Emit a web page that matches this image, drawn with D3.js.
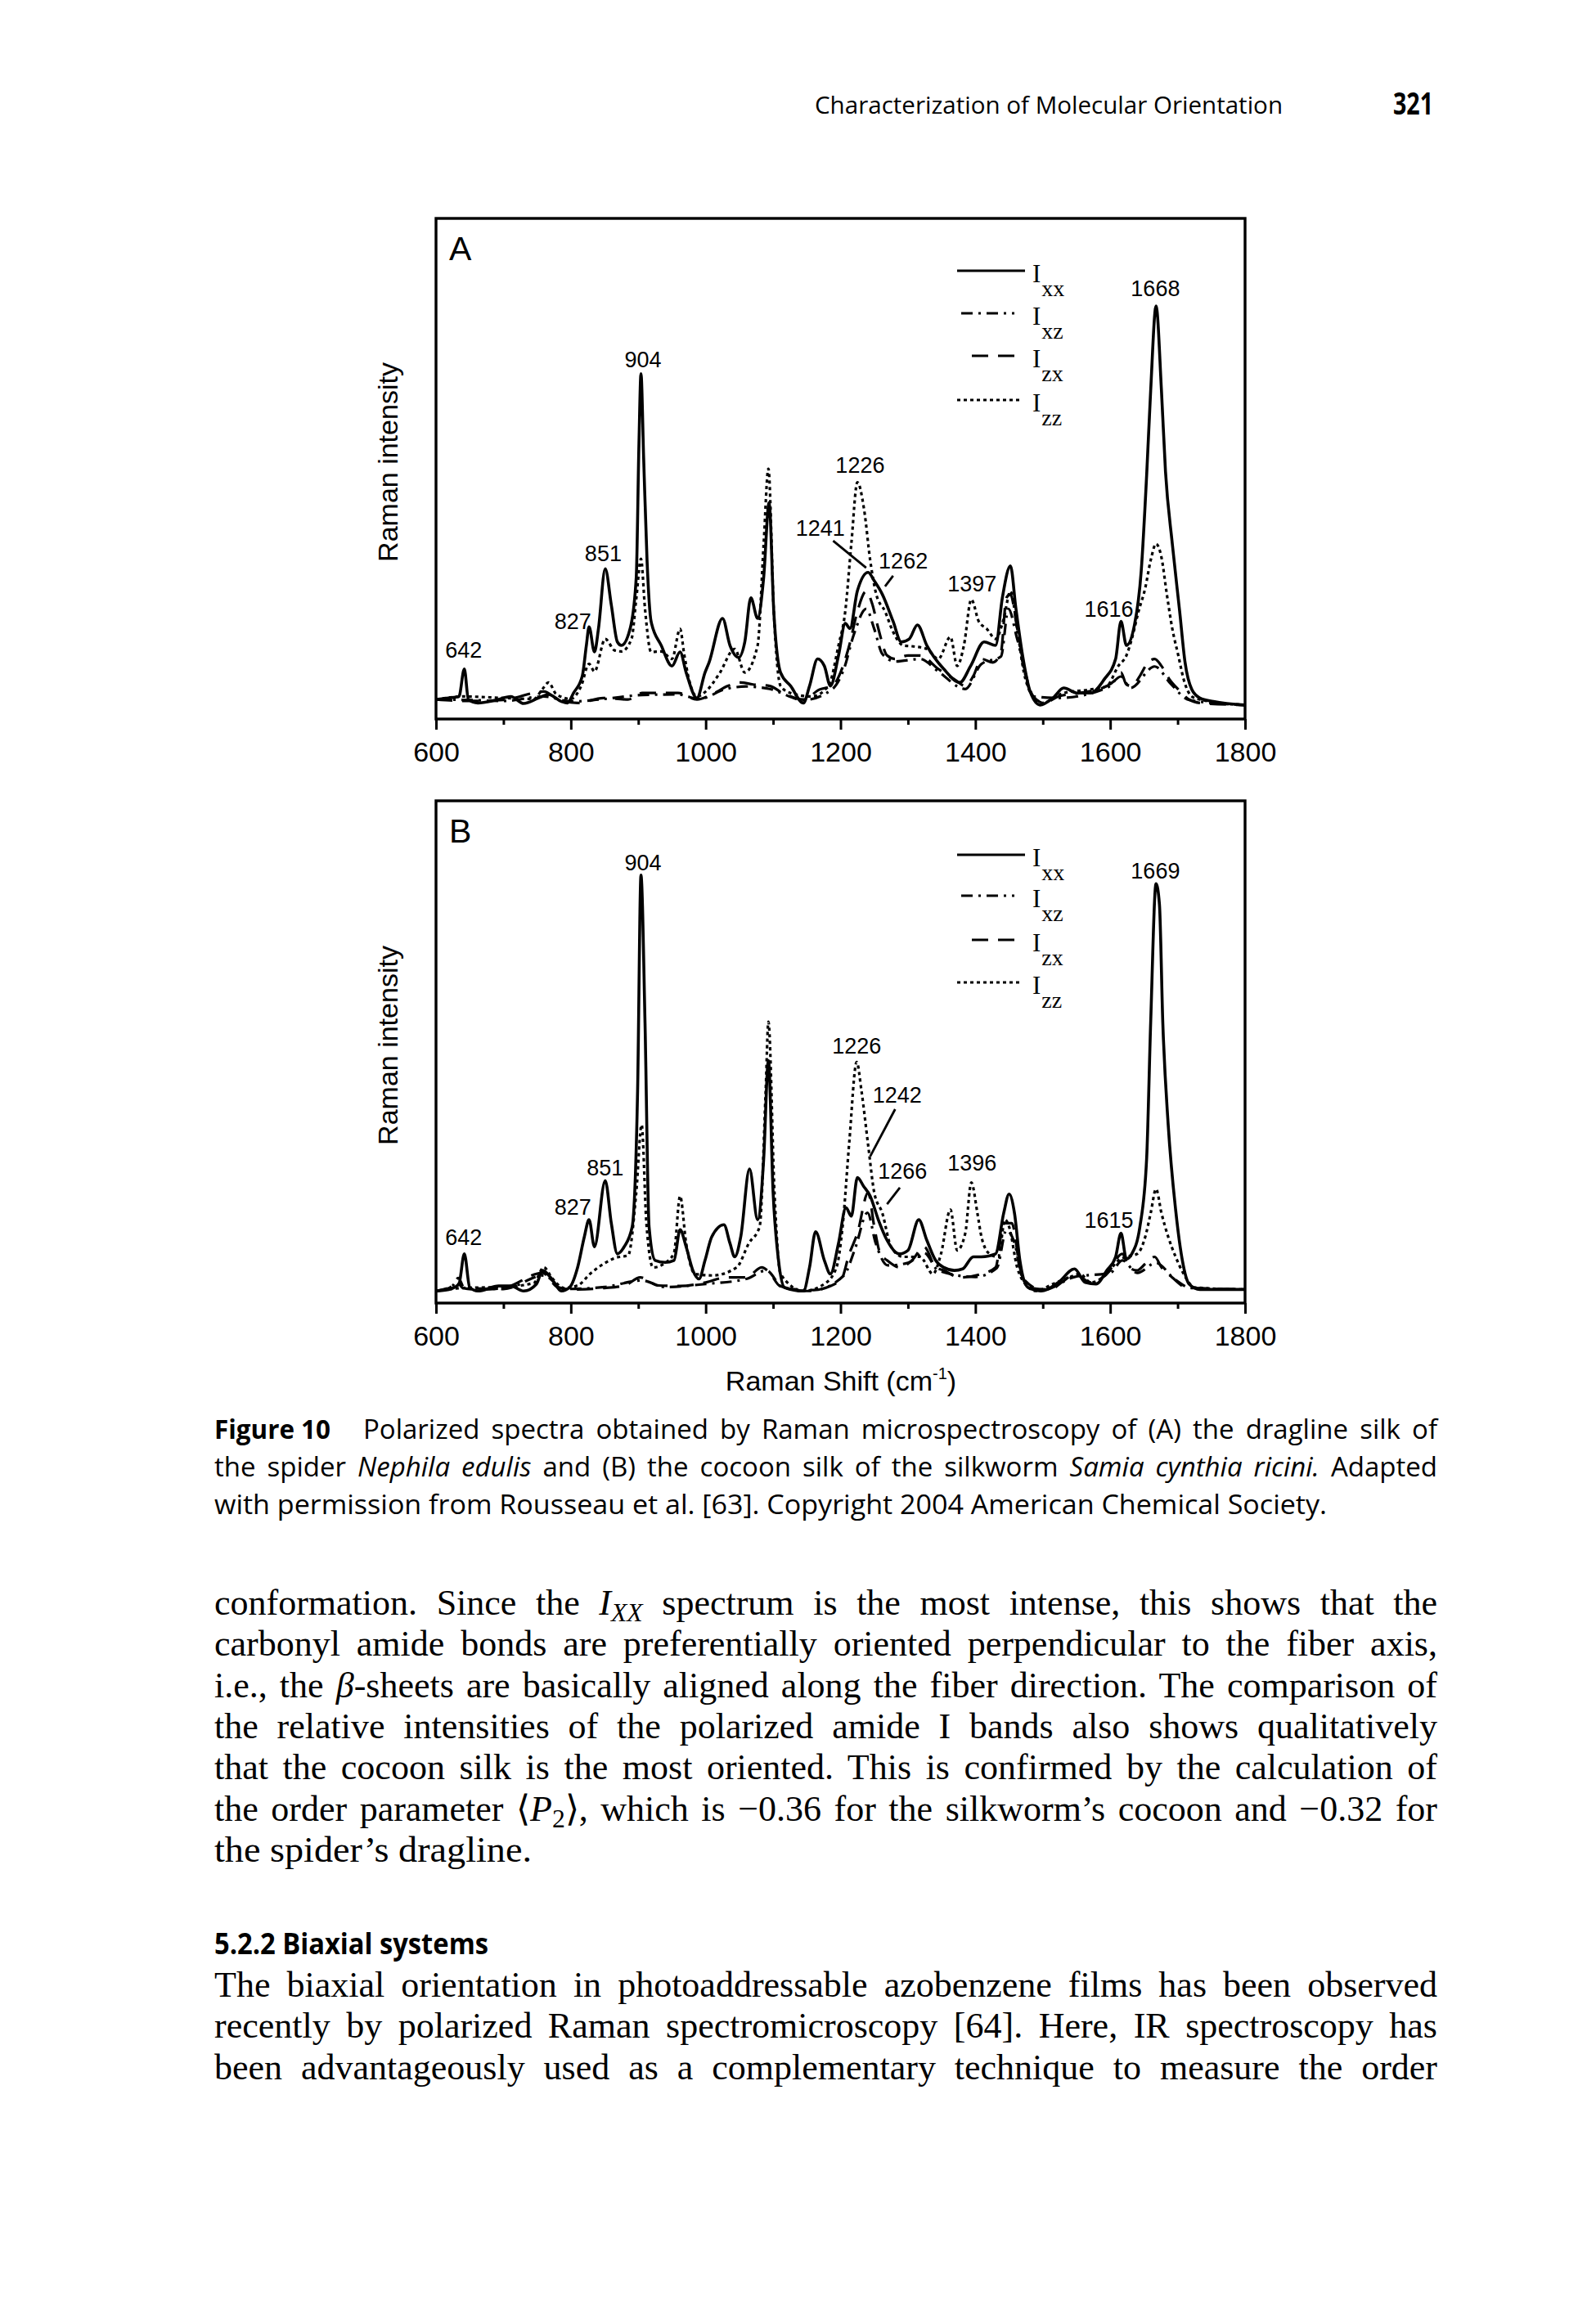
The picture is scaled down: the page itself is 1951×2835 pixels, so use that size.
<!DOCTYPE html>
<html><head><meta charset="utf-8">
<script src="https://cdn.jsdelivr.net/npm/d3@7"></script>
<style>html,body{margin:0;padding:0;background:#fff}</style>
</head><body>
<script>
// ---------- data (Raman shift cm-1, relative intensity 0-100) ----------
const ticksMajor = [600, 800, 1000, 1200, 1400, 1600, 1800];
const ticksMinor = [700, 900, 1100, 1300, 1500, 1700];
const seriesKeys = ["xx", "xz", "zx", "zz"];

const ramanA_Ixx = [[600,3.9],[619,4.2],[634,4.5],[642,10.0],[648,3.9],[662,3.2],[687,3.7],[711,4.5],[730,3.1],[752,4.2],[767,4.9],[786,3.5],[795,3.2],[804,5.2],[817,8.6],[823,14.7],[827,18.4],[835,13.4],[841,18.1],[851,30.0],[860,22.8],[869,15.4],[875,14.7],[888,18.1],[897,28.3],[901,55],[904,69],[908,52],[913,31.7],[919,19.5],[934,14.7],[950,10.6],[962,13.4],[971,9.3],[987,4.2],[999,9.3],[1005,11.3],[1025,20.1],[1036,14.7],[1049,12.3],[1058,15.4],[1067,24.2],[1077,20.1],[1086,28.3],[1094,43.2],[1101,21.5],[1111,9.3],[1126,6.6],[1145,3.2],[1154,6.6],[1166,12.0],[1176,10.6],[1185,6.6],[1197,12.7],[1207,19.1],[1214,18.1],[1225,25.6],[1241,29.3],[1250,27.6],[1262,24.9],[1278,19.5],[1290,15.4],[1302,16.0],[1314,18.8],[1328,14.7],[1353,10.0],[1377,7.3],[1393,10.6],[1413,15.4],[1430,14.7],[1440,24.2],[1452,30.6],[1460,22.2],[1470,12.7],[1482,5.2],[1496,2.8],[1515,4.2],[1531,6.2],[1551,5.2],[1571,5.2],[1591,7.9],[1608,12.0],[1616,19.5],[1624,14.7],[1636,18.8],[1646,29.6],[1654,48.6],[1660,65.6],[1668,82.5],[1676,65.6],[1682,49.4],[1692,35.1],[1703,21.5],[1711,11.3],[1721,5.9],[1733,4.2],[1753,3.5],[1800,2.8]];
const ramanA_Ixz = [[600,3.9],[650,3.8],[700,3.6],[760,4.5],[800,3.5],[850,4.0],[906,4.8],[959,4.9],[990,4.0],[1030,6.0],[1060,6.5],[1095,6.0],[1145,3.8],[1188,6.0],[1205,10],[1220,17],[1238,22],[1250,18],[1262,13],[1281,11.5],[1318,12.0],[1345,9.5],[1385,6.0],[1409,11.0],[1438,12.5],[1449,22],[1462,16],[1486,4.5],[1523,4.2],[1595,6.2],[1616,8.5],[1630,6.2],[1666,10.5],[1690,7.0],[1717,3.8],[1800,2.8]];
const ramanA_Izx = [[600,3.9],[650,3.6],[700,3.8],[760,5.5],[780,4.0],[810,3.2],[848,4.2],[885,3.9],[906,5.2],[928,5.2],[959,5.2],[987,3.9],[1009,4.9],[1033,6.6],[1052,7.3],[1070,6.9],[1095,6.6],[1114,5.2],[1145,3.9],[1169,5.9],[1188,6.6],[1200,9.3],[1213,14.7],[1225,21.5],[1238,25.5],[1247,23.0],[1256,18.1],[1269,12.7],[1281,12.0],[1300,12.7],[1318,12.7],[1345,10.0],[1369,7.9],[1385,6.6],[1397,8.6],[1409,12.0],[1426,11.3],[1438,13.4],[1446,24.2],[1452,24.9],[1462,18.1],[1474,9.3],[1486,4.5],[1502,3.2],[1523,4.5],[1555,5.2],[1595,6.6],[1608,7.9],[1616,9.3],[1624,6.9],[1632,6.6],[1644,8.6],[1656,11.3],[1666,12.0],[1676,10.6],[1688,7.9],[1701,5.9],[1717,3.9],[1733,3.2],[1800,2.8]];
const ramanA_Izz = [[600,3.9],[640,4.5],[700,4.2],[745,4.0],[758,6.0],[767,7.3],[778,5.0],[800,4.0],[815,6.5],[827,11],[835,9.5],[851,16],[865,13.7],[875,13.5],[890,16],[897,24],[904,32],[910,22],[919,13.4],[934,13.5],[950,12],[962,18],[968,13],[975,8],[987,4.5],[1000,5.5],[1020,9],[1043,14],[1058,9.3],[1077,14.7],[1086,35],[1093,50],[1101,21.5],[1111,6.6],[1126,5.2],[1157,4.5],[1182,6.6],[1197,14.7],[1207,21.5],[1216,35],[1225,47.3],[1235,41.8],[1244,31.7],[1253,24.9],[1266,21.5],[1278,17.4],[1293,14.7],[1308,14.5],[1328,14],[1345,12],[1363,16.4],[1373,10.6],[1383,14.7],[1394,23.9],[1405,19.5],[1417,18],[1430,16],[1442,20],[1452,25.5],[1462,18],[1472,9.3],[1482,5.2],[1498,3.2],[1531,5.2],[1571,5.9],[1595,6.6],[1612,10.6],[1624,12.7],[1632,16],[1642,21.5],[1652,26.2],[1660,31.7],[1668,35],[1676,32.3],[1684,24.9],[1692,18.1],[1701,12.7],[1709,7.9],[1721,4.5],[1733,3.9],[1800,2.8]];

const ramanB_Ixx = [[600,2.4],[619,2.7],[634,3.8],[642,9.8],[650,3.1],[662,2.4],[693,3.4],[711,3.4],[730,2.4],[749,3.8],[758,6.5],[770,5.1],[786,2.4],[798,3.1],[810,7.1],[820,13.2],[827,16.6],[835,11.2],[851,24.4],[860,15.9],[869,9.8],[879,11.2],[891,15.2],[899,42.3],[904,85.2],[910,55.8],[916,15.2],[925,8.5],[940,8.1],[953,8.5],[962,14.6],[971,11.2],[981,6.5],[990,4.8],[999,8.5],[1009,13.2],[1027,15.6],[1036,11.9],[1043,9.2],[1052,13.2],[1065,26.7],[1077,16.6],[1086,28.7],[1093,48.3],[1100,22.0],[1108,8.5],[1117,3.1],[1145,2.4],[1154,7.1],[1163,14.2],[1176,8.5],[1185,5.8],[1197,11.9],[1208,19.0],[1216,17.3],[1225,25.0],[1234,23.3],[1244,21.3],[1256,16.6],[1269,12.5],[1287,9.8],[1300,10.5],[1316,16.6],[1328,12.5],[1341,8.5],[1353,7.1],[1369,6.5],[1381,6.8],[1397,9.2],[1409,9.2],[1430,9.8],[1442,17.9],[1450,21.7],[1458,17.9],[1466,8.5],[1478,3.1],[1498,2.4],[1523,4.1],[1547,6.8],[1563,4.1],[1579,3.8],[1595,6.5],[1608,9.2],[1616,13.9],[1624,8.8],[1632,9.8],[1644,15.2],[1654,28.7],[1660,55.8],[1668,83.5],[1673,79.4],[1678,55.8],[1686,35.5],[1697,18.6],[1707,8.5],[1717,3.8],[1733,2.7],[1800,2.7]];
const ramanB_Ixz = [[600,2.4],[625,3.5],[633,5.0],[642,3.0],[700,2.8],[760,5.5],[790,2.8],[850,3.2],[905,4.5],[940,3.2],[1000,3.8],[1060,4.8],[1090,6.5],[1115,3.0],[1160,2.6],[1205,5.5],[1222,11],[1240,18],[1252,12],[1270,7.5],[1300,8.0],[1324,10.0],[1345,6.5],[1400,5.2],[1432,7.0],[1446,14.5],[1458,12],[1470,5.0],[1500,2.6],[1547,5.2],[1600,6.0],[1618,8.5],[1640,6.0],[1668,8.0],[1695,4.8],[1720,3.0],[1800,2.7]];
const ramanB_Izx = [[600,2.4],[620,3.0],[630,4.4],[640,3.0],[662,2.7],[700,3.0],[758,6.0],[780,3.2],[800,2.7],[850,3.0],[880,3.5],[903,5.1],[930,3.5],[962,3.4],[1000,4.1],[1030,5.1],[1060,5.1],[1083,7.1],[1095,6.0],[1110,3.4],[1150,2.4],[1200,4.4],[1213,9.8],[1225,13.9],[1241,22.0],[1250,15.2],[1259,9.8],[1269,8.5],[1288,7.1],[1306,8.5],[1324,11.2],[1341,7.1],[1353,6.5],[1377,5.1],[1409,5.8],[1430,7.1],[1442,15.9],[1454,15.9],[1466,7.1],[1478,3.1],[1510,2.7],[1531,4.4],[1547,5.8],[1571,4.1],[1595,5.8],[1618,9.8],[1628,7.1],[1640,6.5],[1652,7.8],[1666,9.2],[1676,7.1],[1692,5.1],[1713,3.1],[1800,2.7]];
const ramanB_Izz = [[600,2.4],[640,3.0],[700,3.2],[745,4.0],[760,7.1],[772,5.0],[790,3.0],[810,3.5],[830,6],[851,8],[866,9.0],[885,9.5],[897,22],[905,35.5],[912,16],[922,7.1],[940,8.0],[953,10],[962,21.3],[971,11.9],[984,5.8],[1010,5.5],[1046,7.1],[1064,11.9],[1080,15.2],[1089,42.3],[1093,56],[1102,22],[1111,5.8],[1145,2.4],[1176,3.8],[1194,7.1],[1203,15.2],[1213,32.1],[1224,48],[1231,42.3],[1241,31.4],[1250,22],[1262,17.9],[1275,11.2],[1293,9.2],[1318,9.2],[1337,5.8],[1349,9.8],[1363,18.6],[1373,10.5],[1385,13.9],[1394,24.0],[1403,17.9],[1409,13.2],[1421,9.8],[1434,9.2],[1444,16.6],[1450,15.2],[1462,7.1],[1474,3.8],[1490,2.4],[1515,3.8],[1539,5.1],[1555,5.8],[1571,4.1],[1595,5.8],[1612,8.5],[1624,9.2],[1640,9.8],[1652,13.2],[1660,17.9],[1668,22.7],[1676,17.9],[1686,13.2],[1697,9.2],[1709,5.8],[1725,3.1],[1800,2.7]];

// peak labels: [text, shift, intensity of label baseline]
const peaksA = [["642",641,12.3],["827",803,18.0],["851",848,31.5],["904",907,70.3],["1226",1229,49.2],["1241",1170,36.6],["1262",1293,30.1],["1397",1395,25.5],["1616",1598,20.4],["1668",1667,84.5]];
const peaksB = [["642",641,11.6],["827",803,17.6],["851",851,25.4],["904",907,86.2],["1226",1224,49.7],["1242",1284,39.9],["1266",1292,24.8],["1396",1395,26.4],["1615",1598,15.0],["1669",1667,84.5]];
const leadersA = [[1189,35.6,1238,30.2],[1278,28.6,1266,26.5]];
const leadersB = [[1281,38.6,1244,29.2],[1288,23.0,1269,19.7]];

// ---------- drawing ----------
const W = 1951, H = 2835;
const svg = d3.select("body").append("svg").attr("width", W).attr("height", H)
  .style("display","block").style("background","#fff");
const SANS = "'Liberation Sans', Arial, sans-serif";
const SERIF = "'Liberation Serif', 'Times New Roman', serif";
const CAP = "'Open Sans', 'Noto Sans', sans-serif";

const styles = {
  xx: {dash: null, w: 3.6},
  xz: {dash: "14,7,3,7", w: 3.2},
  zx: {dash: "20,12", w: 3.2},
  zz: {dash: "4,4", w: 3.2}
};
const legendSpec = { xx: [1170,1253], xz: [1175,1240], zx: [1188,1247], zz: [1170,1250] };

const panels = [
  {label:"A", top:267, bottom:879, data:{xx:ramanA_Ixx, xz:ramanA_Ixz, zx:ramanA_Izx, zz:ramanA_Izz}, peaks:peaksA, leaders:leadersA, legY:[331,383,435,489]},
  {label:"B", top:979, bottom:1593, data:{xx:ramanB_Ixx, xz:ramanB_Ixz, zx:ramanB_Izx, zz:ramanB_Izz}, peaks:peaksB, leaders:leadersB, legY:[1045,1095,1149,1201]}
];
const x = d3.scaleLinear().domain([600,1800]).range([533,1522]);

panels.forEach((p, i) => {
  const y = d3.scaleLinear().domain([0,100]).range([p.bottom, p.top]);
  const g = svg.append("g");
  const cid = "clip" + p.label;
  svg.append("clipPath").attr("id", cid).append("rect")
    .attr("x", x.range()[0]).attr("y", p.top).attr("width", x.range()[1]-x.range()[0]).attr("height", p.bottom-p.top);

  const line = d3.line().x(d => x(d[0])).y(d => y(d[1])).curve(d3.curveMonotoneX);
  const order = ["xz","zx","zz","xx"];
  order.forEach(k => {
    g.append("path").attr("clip-path", `url(#${cid})`)
      .attr("d", line(p.data[k])).attr("fill","none").attr("stroke","#000")
      .attr("stroke-width", styles[k].w).attr("stroke-linejoin","round")
      .attr("stroke-dasharray", styles[k].dash);
  });

  // frame
  g.append("rect").attr("x", x.range()[0]).attr("y", p.top)
    .attr("width", x.range()[1]-x.range()[0]).attr("height", p.bottom-p.top)
    .attr("fill","none").attr("stroke","#000").attr("stroke-width",3.4);

  // axes
  const ax = g.append("g").attr("transform", `translate(0,${p.bottom})`)
    .call(d3.axisBottom(x).tickValues(ticksMajor).tickSize(13).tickPadding(15).tickFormat(d3.format("d")));
  ax.select(".domain").remove();
  ax.selectAll("line").attr("stroke-width",3);
  ax.selectAll("text").attr("font-family", SANS).attr("font-size", 34).attr("fill","#000");
  const axm = g.append("g").attr("transform", `translate(0,${p.bottom})`)
    .call(d3.axisBottom(x).tickValues(ticksMinor).tickSize(7).tickFormat(""));
  axm.select(".domain").remove();
  axm.selectAll("line").attr("stroke-width",3);

  // panel label
  g.append("text").attr("x", 549).attr("y", p.top + 51).text(p.label)
    .attr("font-family", SANS).attr("font-size", 41);

  // y title
  g.append("text").attr("transform", `translate(486,${(p.top+p.bottom)/2 - 8}) rotate(-90)`)
    .attr("text-anchor","middle").attr("font-family", SANS).attr("font-size", 34).text("Raman intensity");

  // peak labels
  g.selectAll(".pk").data(p.peaks).enter().append("text")
    .attr("x", d => x(d[1])).attr("y", d => y(d[2])).attr("text-anchor","middle")
    .attr("font-family", SANS).attr("font-size", 27).text(d => d[0]);
  g.selectAll(".ld").data(p.leaders).enter().append("line")
    .attr("x1", d => x(d[0])).attr("y1", d => y(d[1])).attr("x2", d => x(d[2])).attr("y2", d => y(d[3]))
    .attr("stroke","#000").attr("stroke-width",2.8);

  // legend
  seriesKeys.forEach((k, j) => {
    const ly = p.legY[j];
    g.append("line").attr("x1", legendSpec[k][0]).attr("x2", legendSpec[k][1]).attr("y1", ly).attr("y2", ly)
      .attr("stroke","#000").attr("stroke-width",2.8).attr("stroke-dasharray", styles[k].dash);
    const t = g.append("text").attr("x", 1262).attr("y", ly + 14).attr("font-family", SERIF).attr("font-size", 31);
    t.append("tspan").text("I");
    t.append("tspan").attr("dy", 17).attr("font-size", 28).attr("dx", 1).text(k);
  });
});

// x axis title
const xt = svg.append("text").attr("x", 1028).attr("y", 1700).attr("text-anchor","middle")
  .attr("font-family", SANS).attr("font-size", 34);
xt.append("tspan").text("Raman Shift (cm");
xt.append("tspan").attr("dy", -14).attr("font-size", 20).text("-1");
xt.append("tspan").attr("dy", 14).text(")");

// ---------- page text ----------
function justify(sel, target) {
  const node = sel.node();
  const w = node.getComputedTextLength();
  const n = (node.textContent.match(/ /g) || []).length;
  if (w <= target && n > 0) sel.style("word-spacing", ((target - w) / n) + "px");
  else if (w > target) sel.attr("textLength", target).attr("lengthAdjust", "spacingAndGlyphs");
}
function richLine(xpos, ypos, segs, font, size) {
  const t = svg.append("text").attr("x", xpos).attr("y", ypos).attr("font-family", font).attr("font-size", size).attr("fill","#000");
  segs.forEach(s => {
    const [txt, st] = typeof s === "string" ? [s, "n"] : s;
    const ts = t.append("tspan").text(txt);
    if (st.includes("i")) ts.attr("font-style","italic");
    if (st.includes("b")) ts.attr("font-weight","bold");
    if (st.includes("s")) ts.attr("dy", 8).attr("font-size", size*0.72);
    if (st.includes("r")) ts.attr("dy", -8);
  });
  return t;
}

// header
svg.append("text").attr("x", 996).attr("y", 139).attr("font-family", CAP).attr("font-size", 29)
  .attr("textLength", 572).attr("lengthAdjust","spacingAndGlyphs").text("Characterization of Molecular Orientation");
svg.append("text").attr("x", 1703).attr("y", 140).attr("font-family", CAP).attr("font-size", 38).attr("font-weight", "bold")
  .attr("textLength", 49).attr("lengthAdjust","spacingAndGlyphs").text("321");

// caption
svg.append("text").attr("x", 262).attr("y", 1759).attr("font-family", CAP).attr("font-size", 32).attr("font-weight","bold")
  .attr("textLength", 142).attr("lengthAdjust","spacingAndGlyphs").text("Figure 10");
const capLines = [
  {x: 444, y: 1759, segs: ["Polarized spectra obtained by Raman microspectroscopy of (A) the dragline silk of"], j: true},
  {x: 262, y: 1805, segs: ["the spider ", ["Nephila edulis","i"], " and (B) the cocoon silk of the silkworm ", ["Samia cynthia ricini.","i"], " Adapted"], j: true},
  {x: 262, y: 1851, segs: ["with permission from Rousseau et al. [63]. Copyright 2004 American Chemical Society."], j: false, w: 1360}
];
capLines.forEach(l => {
  const t = richLine(l.x, l.y, l.segs, CAP, 33);
  if (l.j) justify(t, 1757 - l.x); else t.attr("textLength", l.w).attr("lengthAdjust","spacingAndGlyphs");
});

// body paragraph 1
const BODY = 44;
const body1 = [
  ["conformation. Since the ", ["I","i"], ["XX","is"], [" spectrum is the most intense, this shows that the","r"]],
  ["carbonyl amide bonds are preferentially oriented perpendicular to the fiber axis,"],
  ["i.e., the ", ["\u03b2","i"], "-sheets are basically aligned along the fiber direction. The comparison of"],
  ["the relative intensities of the polarized amide I bands also shows qualitatively"],
  ["that the cocoon silk is the most oriented. This is confirmed by the calculation of"],
  ["the order parameter \u27e8", ["P","i"], ["2","s"], ["\u27e9, which is \u22120.36 for the silkworm\u2019s cocoon and \u22120.32 for","r"]],
  ["the spider\u2019s dragline."]
];
const body1Y = [1974, 2024, 2075, 2125, 2175, 2226, 2276];
body1.forEach((segs, i) => {
  const t = richLine(262, body1Y[i], segs, SERIF, BODY);
  if (i < body1.length - 1) justify(t, 1495);
  else t.attr("textLength", 388).attr("lengthAdjust","spacingAndGlyphs");
});

// heading
svg.append("text").attr("x", 262).attr("y", 2389).attr("font-family", CAP).attr("font-size", 35).attr("font-weight", "bold")
  .attr("textLength", 335).attr("lengthAdjust","spacingAndGlyphs").text("5.2.2  Biaxial systems");

const body2 = [
  ["The biaxial orientation in photoaddressable azobenzene films has been observed"],
  ["recently by polarized Raman spectromicroscopy [64]. Here, IR spectroscopy has"],
  ["been advantageously used as a complementary technique to measure the order"]
];
const body2Y = [2441, 2491, 2542];
body2.forEach((segs, i) => {
  const t = richLine(262, body2Y[i], segs, SERIF, BODY);
  justify(t, 1495);
});
</script>
</body></html>
